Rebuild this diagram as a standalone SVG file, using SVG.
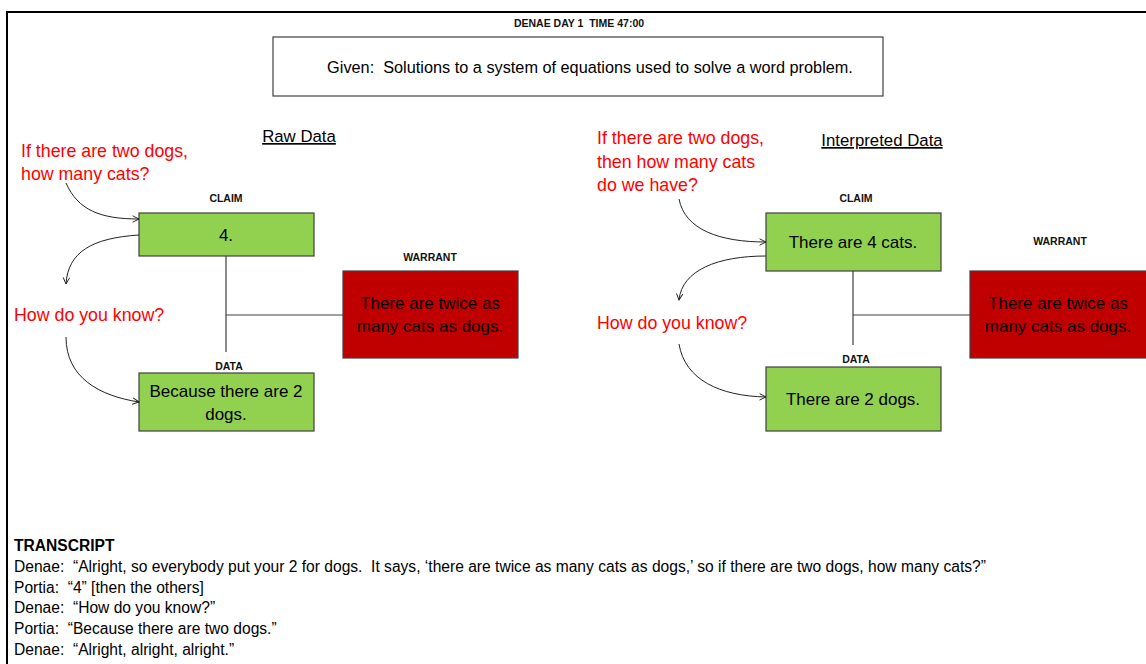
<svg xmlns="http://www.w3.org/2000/svg" width="1146" height="664" viewBox="0 0 1146 664">
<style>
  text { font-family: "Liberation Sans", Arial, sans-serif; fill: #000; white-space: pre; }
  .lbl { font-size: 10.5px; font-weight: bold; text-anchor: middle; fill: #111; }
  .body { font-size: 15.6px; }
  .given { font-size: 16.3px; text-anchor: middle; }
  .box { font-size: 17px; text-anchor: middle; }
  .red { font-size: 17.8px; fill: #ff0000; }
  .head { font-size: 16.8px; text-anchor: middle; text-decoration: underline; }
  .green { fill: #92d050; stroke: #404040; stroke-width: 1.2; }
  .warr { fill: #c00000; stroke: #404040; stroke-width: 1.2; }
  .link { stroke: #404040; stroke-width: 1.2; fill: none; }
  .curve { stroke: #222; stroke-width: 1; fill: none; marker-end: url(#open); }
</style>
<defs>
  <marker id="open" viewBox="0 0 10 10" refX="9" refY="5" markerWidth="8" markerHeight="8" orient="auto" markerUnits="userSpaceOnUse">
    <path d="M1,1 L9,5 L1,9" fill="none" stroke="#222" stroke-width="1.2"/>
  </marker>
</defs>
<rect width="1146" height="664" fill="#fff"/>
<!-- page frame -->
<path d="M7,664 V12 H1146" fill="none" stroke="#000" stroke-width="2"/>

<g id="title">
  <text class="lbl" x="579" y="27">DENAE DAY 1  TIME 47:00</text>
</g>
<g id="given">
  <rect x="273" y="37" width="610" height="59" fill="#fff" stroke="#404040" stroke-width="1.2"/>
  <text class="given" x="590" y="73">Given:  Solutions to a system of equations used to solve a word problem.</text>
</g>

<!-- left diagram: raw data -->
<g id="raw-heading"><text class="head" x="299" y="142">Raw Data</text></g>
<g id="raw-q1">
  <text class="red" x="21" y="157">If there are two dogs,</text>
  <text class="red" x="21" y="180">how many cats?</text>
</g>
<g id="raw-q2"><text class="red" x="14" y="321">How do you know?</text></g>
<g id="raw-claim">
  <text class="lbl" x="226" y="202">CLAIM</text>
  <rect class="green" x="139" y="213" width="175" height="43"/>
  <text class="box" x="226" y="241">4.</text>
</g>
<g id="raw-warrant">
  <text class="lbl" x="430" y="261">WARRANT</text>
  <rect class="warr" x="343" y="271" width="175" height="87"/>
  <text class="box" x="430" y="309">There are twice as</text>
  <text class="box" x="430" y="332">many cats as dogs.</text>
</g>
<g id="raw-data">
  <text class="lbl" x="229" y="370">DATA</text>
  <rect class="green" x="139" y="373" width="175" height="58"/>
  <text class="box" x="226" y="397">Because there are 2</text>
  <text class="box" x="226" y="420">dogs.</text>
</g>

<!-- right diagram: interpreted data -->
<g id="int-heading"><text class="head" x="882" y="146">Interpreted Data</text></g>
<g id="int-q1">
  <text class="red" x="597" y="144">If there are two dogs,</text>
  <text class="red" x="597" y="168">then how many cats</text>
  <text class="red" x="597" y="191">do we have?</text>
</g>
<g id="int-q2"><text class="red" x="597" y="329">How do you know?</text></g>
<g id="int-claim">
  <text class="lbl" x="856" y="202">CLAIM</text>
  <rect class="green" x="766" y="213" width="175" height="58"/>
  <text class="box" x="853" y="248">There are 4 cats.</text>
</g>
<g id="int-warrant">
  <text class="lbl" x="1060" y="245">WARRANT</text>
  <rect class="warr" x="970" y="271" width="178" height="87"/>
  <text class="box" x="1058" y="309">There are twice as</text>
  <text class="box" x="1058" y="332">many cats as dogs.</text>
</g>
<g id="int-data">
  <text class="lbl" x="856" y="363">DATA</text>
  <rect class="green" x="766" y="367" width="175" height="64"/>
  <text class="box" x="853" y="405">There are 2 dogs.</text>
</g>

<g id="connectors">
  <path class="link" d="M226,256 V352 M226,315 H343"/>
  <path class="link" d="M853,271 V345 M853,315 H970"/>
  <path class="curve" d="M66,183 C78,210 100,219 139,219"/>
  <path class="curve" d="M139,235 C92,238 68,252 66,284"/>
  <path class="curve" d="M66,337 C66,378 100,396 139,402"/>
  <path class="curve" d="M679,199 C685,230 720,242 766,242"/>
  <path class="curve" d="M766,256 C718,256 682,270 679,300"/>
  <path class="curve" d="M679,344 C685,380 720,396 766,397"/>
</g>

<g id="transcript">
  <text class="body" x="14" y="551" font-weight="bold">TRANSCRIPT</text>
  <text class="body" x="14" y="572">Denae:  “Alright, so everybody put your 2 for dogs.  It says, ‘there are twice as many cats as dogs,’ so if there are two dogs, how many cats?”</text>
  <text class="body" x="14" y="593">Portia:  “4” [then the others]</text>
  <text class="body" x="14" y="613">Denae:  “How do you know?”</text>
  <text class="body" x="14" y="634">Portia:  “Because there are two dogs.”</text>
  <text class="body" x="14" y="655">Denae:  “Alright, alright, alright.”</text>
</g>
</svg>
